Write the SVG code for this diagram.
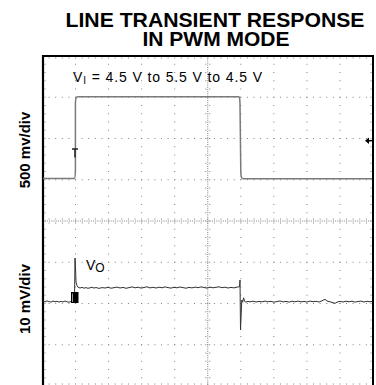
<svg xmlns="http://www.w3.org/2000/svg" width="376" height="385" viewBox="0 0 376 385">
<style>
.title{font-family:"Liberation Sans",Arial,sans-serif;font-weight:bold;font-size:21px;fill:#000;text-anchor:middle}
.axis{font-family:"Liberation Sans",Arial,sans-serif;font-weight:bold;font-size:15px;fill:#000;text-anchor:middle}
.lbl{font-family:"Liberation Sans",Arial,sans-serif;font-size:14px;fill:#000}
.hdot{stroke:#808080;stroke-width:1;stroke-dasharray:1 5.61;fill:none}
.vdot{stroke:#808080;stroke-width:1;stroke-dasharray:1 7.25;fill:none}
.tick{stroke:#808080;stroke-width:1;fill:none}
.frame{stroke:#000;fill:none}
.vi{stroke:#7a7a7a;stroke-width:1.5;fill:none;stroke-linejoin:round}
.vo{stroke:#333;stroke-width:1;fill:none;stroke-linejoin:round}
</style>
<rect width="376" height="385" fill="#fff"/>
<g id="title">
<text class="title"><tspan x="215" y="26.5" textLength="299" lengthAdjust="spacingAndGlyphs">LINE TRANSIENT RESPONSE</tspan><tspan x="216" y="45.5">IN PWM MODE</tspan></text>
</g>
<g id="axis-labels">
<text class="axis" transform="translate(30,150) rotate(-90)">500 mv/div</text>
<text class="axis" transform="translate(30,299) rotate(-90)">10 mV/div</text>
</g>
<g id="grid">
<path class="hdot" stroke-dashoffset="0.5" d="M42.5,97.25H373M42.5,138.5H373M42.5,179.75H373M42.5,262.25H373M42.5,303.5H373M42.5,344.75H373"/>
<path class="vdot" stroke-dashoffset="0.5" d="M75.55,56V386M108.6,56V386M141.65,56V386M174.7,56V386M240.8,56V386M273.85,56V386M306.9,56V386M339.95,56V386"/>
<path class="tick" stroke-dasharray="1 1.2" d="M42.5,221H373M207.75,56V386"/>
<path class="tick" stroke-dasharray="1 5.61" stroke-dashoffset="0.5" d="M42.5,223H373M42.5,219H373M42.5,58H373M42.5,384H373"/>
<path class="tick" stroke-dasharray="1 7.25" stroke-dashoffset="0.5" d="M205.75,56V386M209.75,56V386M45,56V386M371,56V386"/>
</g>
<g id="frame">
<path class="frame" stroke-width="2" d="M43,56H374"/>
<path class="frame" stroke-width="2.2" d="M43,55V386"/>
<path class="frame" stroke-width="2" d="M373,55V386"/>
</g>
<g id="connectors">
<path id="vi-trace" class="vi" d="M43,178.6H74.3C75.2,178.6 75.3,176 75.4,170V104C75.5,98 76,96.8 78,96.8H238.6C239.6,96.8 239.8,98 240,104L240.8,172C241,177.8 241.6,178.7 243.5,178.7H372"/>
<path id="vo-trace" class="vo" d="M43,301.2L45,301.8L47,300.9L49,301.6L51,302.1L53,301.1L55,301.7L57,301.3L59,302.1L61,301.4L63,301.9L65,301 L67,301.8L69,302.2L71,301.5L73,302.3L74.5,301.8L75,258L75.6,270L76,282L77,285.5L78,287.2L80,288L82,287.4L84,288.2L86,287.6L88,288.3L90,287.8L92,287.2L94,288.1L96,287.5L99,288.4L102,287.6L105,288L108,287.3L111,288.2L114,287.7L117,287.1L120,288L123,287.4L126,288.3L129,287.6L132,286.9L135,287.8L138,287.2L141,288.1L144,287.5L147,286.8L150,287.9L153,287.3L156,288L159,287.2L162,287.8L165,286.9L168,287.6L171,288.1L174,287.3L177,287.8L180,287L183,287.6L186,288.2L189,287.4L192,287.9L195,287.1L198,287.7L201,286.9L204,287.5L207,288.1L210,287.2L213,287.8L216,287.3L219,286.8L222,287.7L225,287.2L228,288L231,287.4L234,287.9L237,287.1L239.5,286.8L240,280L240.5,330L241,318L241.8,300L242.6,302.2L243.6,297.8L244.6,301.4L246,302.2L248,301.3L250,301.9L253,301.2L256,302L259,301.4L262,301.9L265,301.1L268,301.8L271,301.3L274,302.2L277,301.5L280,301L283,301.9L286,301.4L289,302.1L292,301.2L295,301.8L298,301.1L301,301.9L304,301.4L307,302L310,301.1L313,301.7L316,301.3L319,302L322,300.8L325,299.3L327,301L330,301.8L333,302.6L335,303.4L337,302.1L340,301.4L343,302L346,301.2L349,301.8L352,301.2L355,302.1L358,301.5L361,301.1L364,302L367,301.3L370,301.8L372,301.4"/>
</g>
<g id="markers">
<path d="M72,149H78M75,149V157.5" stroke="#222" stroke-width="1.5" fill="none"/>
<path d="M365,140.7L369,137.5V143.9Z" fill="#000"/>
<path d="M368,140.7H372" stroke="#000" stroke-width="1.5"/>
<rect x="71" y="292" width="7.5" height="11" fill="#000"/>
<path d="M72.5,293.5V302" stroke="#fff" stroke-width="0.6"/>
</g>
<g id="labels">
<text class="lbl" x="73" y="81.5" textLength="189" lengthAdjust="spacing">V<tspan font-size="10" dy="2.5">I</tspan><tspan dy="-2.5"> = 4.5 V to 5.5 V to 4.5 V</tspan></text>
<text class="lbl" x="86" y="269.5" font-size="15">V<tspan font-size="12" dy="2.5">O</tspan></text>
</g>
</svg>
